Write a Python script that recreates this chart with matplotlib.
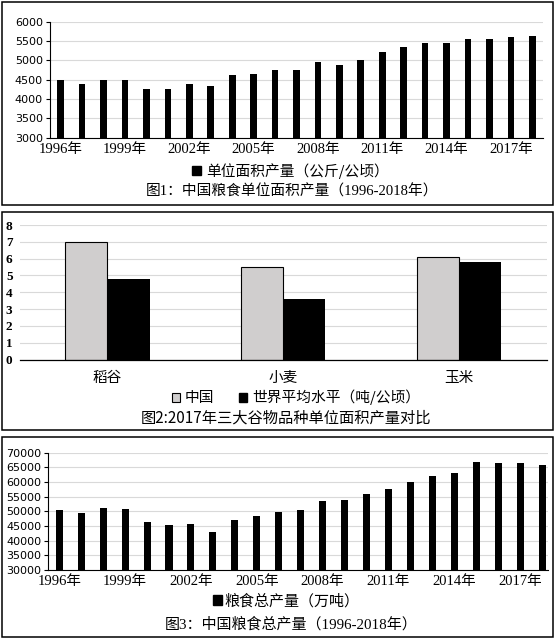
import matplotlib
matplotlib.use('Agg')
import matplotlib.pyplot as plt
from matplotlib.patches import Rectangle, Patch

years = list(range(1996, 2019))
yield_per_ha = [4483, 4377, 4502, 4493, 4261, 4267, 4399, 4333, 4620, 4642,
                4745, 4748, 4951, 4871, 5006, 5210, 5340, 5440, 5440, 5550,
                5550, 5607, 5621]
total_output = [50454, 49417, 51230, 50839, 46218, 45264, 45706, 43070, 46947,
                48402, 49804, 50413, 53434, 53941, 55911, 57600, 60000, 62000,
                63000, 66800, 66450, 66450, 65789]
crops = ['稻谷', '小麦', '玉米']
china_yield = [7.0, 5.5, 6.1]
world_yield = [4.8, 3.6, 5.8]
year_labels = [f'{y}年' for y in years[::3]]

W, H = 556, 640
fig = plt.figure(figsize=(W / 100, H / 100), dpi=100)

serif_cjk = ['Liberation Serif', 'Noto Sans CJK SC']
cjk = ['Noto Sans CJK SC', 'DejaVu Sans']
GRID = '#d9d9d9'


def ax_px(l, t, r, b):
    return fig.add_axes([l / W, 1 - b / H, (r - l) / W, (b - t) / H])


def box(y0, y1):
    fig.add_artist(Rectangle((2 / W, 1 - y1 / H), 551 / W, (y1 - y0) / H,
                             transform=fig.transFigure, fill=False,
                             lw=1.1, ec='black'))


def style_time_axis(ax, yticks, xmax):
    ax.set_xlim(-0.5, xmax)
    ax.set_ylim(yticks[0], yticks[-1])
    ax.set_yticks(yticks)
    ax.set_xticks(range(0, len(years), 3))
    ax.set_xticklabels(year_labels)
    ax.grid(axis='y', color=GRID, lw=0.8)
    ax.set_axisbelow(True)
    for s in ['top', 'right']:
        ax.spines[s].set_visible(False)
    for s in ['left', 'bottom']:
        ax.spines[s].set_color('black')
        ax.spines[s].set_linewidth(0.8)
    ax.tick_params(axis='y', length=3, width=0.8, pad=2, labelsize=8)
    ax.tick_params(axis='x', length=0, pad=3.5)
    for lbl in ax.get_yticklabels():
        lbl.set_fontfamily('DejaVu Sans')
    for lbl in ax.get_xticklabels():
        lbl.set_fontfamily(serif_cjk)
        lbl.set_fontsize(10.5)


# ---------- Panel 1 ----------
box(2, 205)
ax1 = ax_px(50, 21.7, 543, 137.7)
ax1.bar(range(len(years)), yield_per_ha, width=0.31, color='black')
style_time_axis(ax1, list(range(3000, 6001, 500)), 22.5)
fig.legend(handles=[Patch(fc='black', ec='black', label='单位面积产量（公斤/公顷）')],
           loc='center', bbox_to_anchor=(290.5 / W, 1 - 170.7 / H), frameon=False,
           prop={'family': cjk, 'size': 10.6}, handlelength=0.6, handleheight=0.6,
           handletextpad=0.4, borderpad=0, borderaxespad=0)
fig.text(292 / W, 1 - 191.5 / H, '图1：中国粮食单位面积产量（1996-2018年）',
         ha='center', va='center', fontsize=10.6, family=serif_cjk)

# ---------- Panel 2 ----------
box(211.5, 430)
ax2 = ax_px(19.5, 225, 547, 359.5)
xi = list(range(len(crops)))
ax2.bar([i - 0.12 for i in xi], china_yield, width=0.24, color='#d0cece',
        ec='black', lw=0.8)
ax2.bar([i + 0.12 for i in xi], world_yield, width=0.24, color='black')
ax2.set_xlim(-0.5, 2.5)
ax2.set_ylim(0, 8)
ax2.set_yticks(range(0, 9))
ax2.set_xticks(xi)
ax2.set_xticklabels(crops)
ax2.grid(axis='y', color=GRID, lw=0.8)
ax2.set_axisbelow(True)
for s in ['top', 'right', 'left']:
    ax2.spines[s].set_visible(False)
ax2.spines['bottom'].set_color('black')
ax2.spines['bottom'].set_linewidth(0.9)
ax2.tick_params(axis='y', length=0, pad=5)
ax2.tick_params(axis='x', length=0, pad=8)
for lbl in ax2.get_yticklabels():
    lbl.set_fontfamily('Liberation Serif')
    lbl.set_fontweight('bold')
    lbl.set_fontsize(9.5)
for lbl in ax2.get_xticklabels():
    lbl.set_fontfamily(cjk)
    lbl.set_fontsize(10.5)
fig.legend(handles=[Patch(fc='#d0cece', ec='black', lw=0.8, label='中国'),
                    Patch(fc='black', ec='black', label='世界平均水平（吨/公顷）')],
           loc='center', bbox_to_anchor=(296 / W, 1 - 397.5 / H), frameon=False,
           ncol=2, columnspacing=1.7,
           prop={'family': cjk, 'size': 10.6}, handlelength=0.55, handleheight=0.55,
           handletextpad=0.3, borderpad=0, borderaxespad=0)
fig.text(286 / W, 1 - 418 / H, '图2:2017年三大谷物品种单位面积产量对比',
         ha='center', va='center', fontsize=11, family=cjk)

# ---------- Panel 3 ----------
box(436.5, 637)
ax3 = ax_px(48.3, 452.7, 548, 570)
ax3.bar(range(len(years)), total_output, width=0.32, color='black')
style_time_axis(ax3, list(range(30000, 70001, 5000)), 22.27)
fig.legend(handles=[Patch(fc='black', ec='black', label='粮食总产量（万吨）')],
           loc='center', bbox_to_anchor=(286 / W, 1 - 601 / H), frameon=False,
           prop={'family': cjk, 'size': 10.8}, handlelength=0.6, handleheight=0.6,
           handletextpad=0.15, borderpad=0, borderaxespad=0)
fig.text(291 / W, 1 - 624 / H, '图3：中国粮食总产量（1996-2018年）',
         ha='center', va='center', fontsize=10.8, family=serif_cjk)

fig.savefig('out.png', dpi=100)
